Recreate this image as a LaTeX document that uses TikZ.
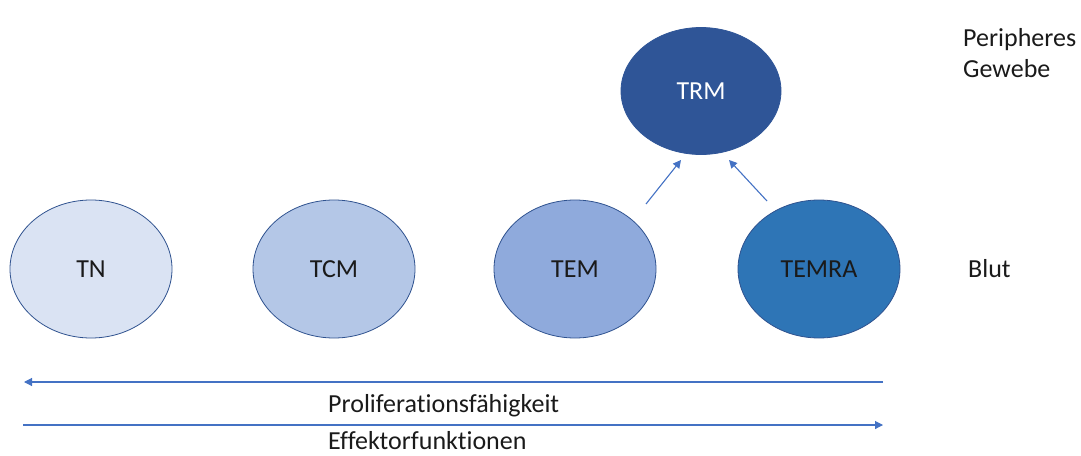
\documentclass[tikz,border=0pt]{standalone}
\usepackage{fontspec}
\setmainfont{Carlito}[Ligatures=NoCommon]
\usetikzlibrary{shapes.geometric,arrows.meta}
\definecolor{cTN}{HTML}{DAE3F3}
\definecolor{cTCM}{HTML}{B4C7E7}
\definecolor{cTEM}{HTML}{8FAADC}
\definecolor{cTEMRA}{HTML}{2E75B6}
\definecolor{cTRM}{HTML}{2F5597}
\definecolor{cBorder}{HTML}{2F528F}
\definecolor{cArrow}{HTML}{4472C4}
\definecolor{cText}{HTML}{1A1A1A}
\tikzset{
  cell/.style={ellipse, draw=cBorder, line width=0.8pt, minimum width=162pt, minimum height=138pt, inner sep=0pt, font=\fontsize{26}{31}\selectfont, text=cText},
  lbl/.style={font=\fontsize{26}{31}\selectfont, text=cText, inner sep=0pt},
  conn/.style={draw=cArrow, line width=1.1pt, -{Triangle[length=8pt,width=8pt]}},
}
\begin{document}
\begin{tikzpicture}[x=1pt,y=-1pt]
\useasboundingbox (0,0) rectangle (1081,455);
\node[cell, fill=cTN] (TN) at (91,269) {TN};
\node[cell, fill=cTCM] (TCM) at (334,269) {TCM};
\node[cell, fill=cTEM] (TEM) at (575,269) {TEM};
\node[cell, fill=cTEMRA] (TEMRA) at (819,269) {TEMRA};
\node[cell, fill=cTRM, draw=cTRM, minimum width=160pt, minimum height=127pt, text=white] (TRM) at (701,91) {TRM};
\coordinate (a1s) at (646,204);
\coordinate (a1e) at (681,160);
\coordinate (a2s) at (767,201);
\coordinate (a2e) at (729,160);
\draw[conn] (a1s) -- (a1e);
\draw[conn] (a2s) -- (a2e);
\node[lbl, anchor=base west, align=left] (periph) at (963,77) {Peripheres\\Gewebe};
\node[lbl, anchor=base west] (blut) at (968,277) {Blut};
\coordinate (p1) at (883,382);
\coordinate (p2) at (24,382);
\coordinate (e1) at (23,425);
\coordinate (e2) at (883,425);
\draw[conn] (p1) -- (p2);
\draw[conn] (e1) -- (e2);
\node[lbl, anchor=base west] (prolif) at (328,412) {Proliferationsfähigkeit};
\node[lbl, anchor=base west] (effekt) at (328,449) {Effektorfunktionen};
\end{tikzpicture}
\end{document}
